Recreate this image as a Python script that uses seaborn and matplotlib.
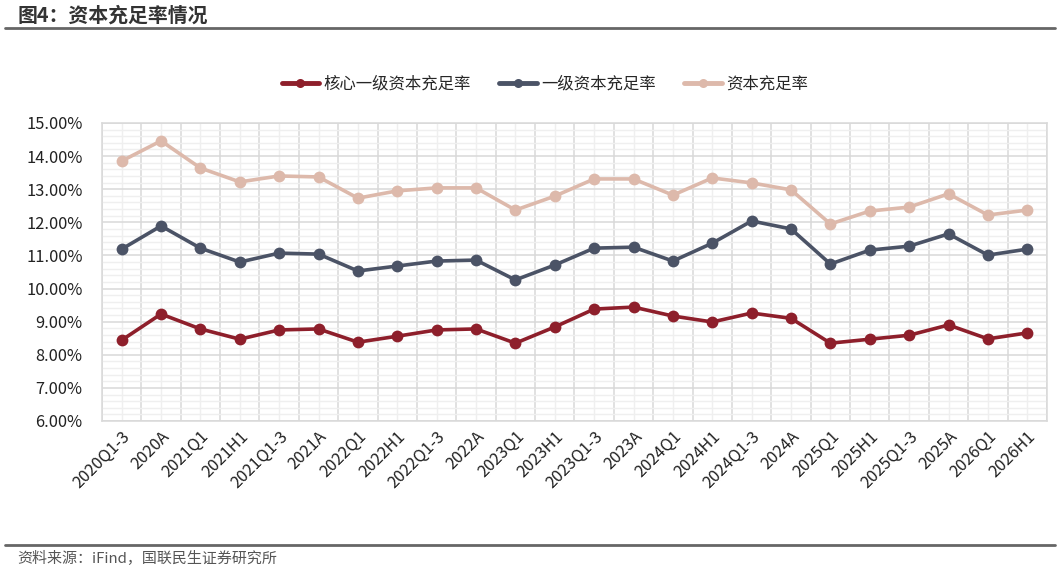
import numpy as np
import pandas as pd
import matplotlib
matplotlib.use("Agg")
import matplotlib.pyplot as plt
from matplotlib.lines import Line2D
import seaborn as sns

categories = ["2020Q1-3", "2020A", "2021Q1", "2021H1", "2021Q1-3", "2021A",
              "2022Q1", "2022H1", "2022Q1-3", "2022A", "2023Q1", "2023H1",
              "2023Q1-3", "2023A", "2024Q1", "2024H1", "2024Q1-3", "2024A",
              "2025Q1", "2025H1", "2025Q1-3", "2025A", "2026Q1", "2026H1"]
core_tier1 = [8.44, 9.23, 8.78, 8.47, 8.75, 8.78, 8.38, 8.56, 8.75, 8.78, 8.35, 8.84,
              9.38, 9.44, 9.17, 8.99, 9.26, 9.10, 8.35, 8.47, 8.59, 8.90, 8.48, 8.66]
tier1 = [11.19, 11.89, 11.22, 10.80, 11.07, 11.04, 10.53, 10.68, 10.83, 10.86, 10.26, 10.71,
         11.22, 11.25, 10.83, 11.37, 12.04, 11.80, 10.74, 11.16, 11.28, 11.65, 11.01, 11.19]
capital = [13.85, 14.46, 13.64, 13.22, 13.40, 13.37, 12.73, 12.95, 13.04, 13.04, 12.37, 12.79,
           13.31, 13.31, 12.82, 13.34, 13.19, 12.98, 11.95, 12.34, 12.46, 12.86, 12.22, 12.37]
series_names = ["核心一级资本充足率", "一级资本充足率", "资本充足率"]
colors = ["#8E1F2B", "#4B5366", "#DDB9AB"]
title = "图4：资本充足率情况"
source = "资料来源：iFind，国联民生证券研究所"

sns.set_theme(style="white")
plt.rcParams["font.family"] = ["Noto Sans CJK SC", "DejaVu Sans"]

rows = []
for name, vals in zip(series_names, [core_tier1, tier1, capital]):
    for i, v in enumerate(vals):
        rows.append({"idx": i, "value": v, "series": name})
df = pd.DataFrame(rows)

fig = plt.figure(figsize=(10.6, 5.72), dpi=100)
ax = fig.add_axes([0.0962, 0.264, 0.8915, 0.521])

sns.lineplot(data=df, x="idx", y="value", hue="series", hue_order=series_names,
             palette=colors, marker="o", markersize=8.5, markeredgewidth=0,
             linewidth=2.6, ax=ax, legend=False, zorder=3)

n = len(categories)
ax.set_xlim(-0.5, n - 0.5)
ax.set_ylim(6, 15)
ax.set_xticks(np.arange(n))
ax.set_xticks(np.arange(n + 1) - 0.5, minor=True)
ax.set_xticklabels(categories, rotation=45, ha="right", rotation_mode="anchor", fontsize=11.8,
                   color="#222222")
ax.set_yticks(np.arange(6, 15.01, 1))
ax.set_yticks(np.arange(6, 15.01, 0.2), minor=True)
ax.set_yticklabels([f"{v:.2f}%" for v in np.arange(6, 15.01, 1)], fontsize=11.8, color="#222222")
ax.tick_params(axis="both", which="both", length=0)
ax.tick_params(axis="x", pad=5)
ax.tick_params(axis="y", pad=14)

ax.grid(False)
ax.grid(axis="x", which="major", color="#EFEFEF", linewidth=1.0)
ax.grid(axis="x", which="minor", color="#D9D9D9", linewidth=1.1)
ax.grid(axis="y", which="minor", color="#EFEFEF", linewidth=1.0)
ax.grid(axis="y", which="major", color="#D9D9D9", linewidth=1.1)
ax.set_axisbelow(True)
for s in ax.spines.values():
    s.set_color("#D9D9D9")
    s.set_linewidth(1.1)
ax.set_xlabel("")
ax.set_ylabel("")

handles = [Line2D([0], [0], color=c, lw=3.5, marker="o", markersize=6.5, markeredgewidth=0)
           for c in colors]
fig.legend(handles, series_names, loc="center", bbox_to_anchor=(0.514, 0.853), ncol=3,
           frameon=False, fontsize=11.8, handlelength=2.3, handletextpad=0.25, columnspacing=1.75)

fig.text(0.017, 0.973, title, fontsize=14.3, fontweight="bold", color="#333333", va="center", ha="left")
fig.add_artist(Line2D([0.005, 0.995], [0.951, 0.951], color="#666666", lw=2.0, transform=fig.transFigure))
fig.add_artist(Line2D([0.005, 0.995], [0.047, 0.047], color="#666666", lw=2.0, transform=fig.transFigure))
fig.text(0.016, 0.024, source, fontsize=10.8, color="#555555", va="center", ha="left")

fig.savefig("out.png", dpi=100, facecolor="white")
